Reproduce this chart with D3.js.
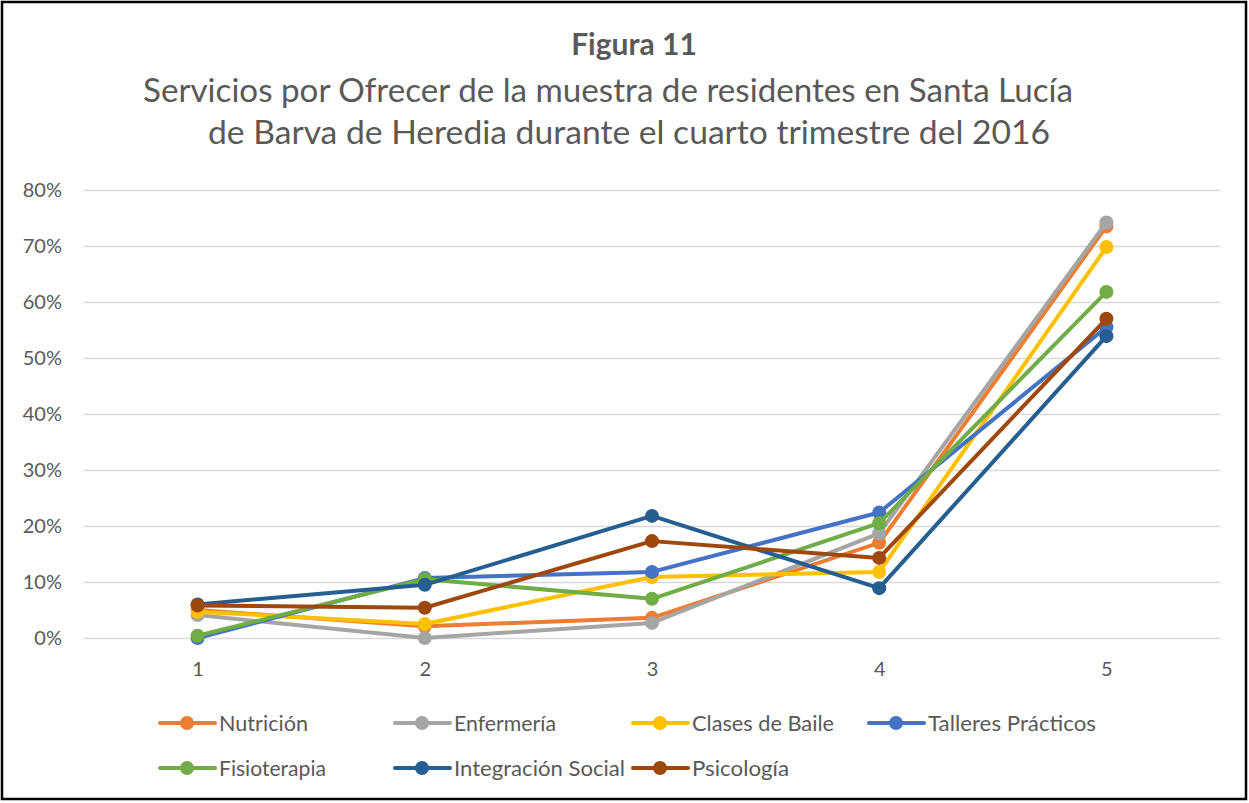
<!DOCTYPE html>
<html><head><meta charset="utf-8">
<script src="https://cdn.jsdelivr.net/npm/d3@7"></script>
<style>body{margin:0;background:#fff;}svg{display:block;font-family:Lato,"Open Sans",sans-serif;}</style>
</head><body>
<svg id="c" width="1249" height="803"></svg>
<script>
const categories = ["1","2","3","4","5"];
const seriesNames = ["Nutrición","Enfermería","Clases de Baile","Talleres Prácticos","Fisioterapia","Integración Social","Psicología"];
const nutricion   = [0.050, 0.021, 0.036, 0.170, 0.735];
const enfermeria  = [0.041, 0.000, 0.027, 0.187, 0.742];
const clasesBaile = [0.047, 0.025, 0.109, 0.118, 0.698];
const talleres    = [0.000, 0.107, 0.118, 0.224, 0.555];
const fisioterapia= [0.004, 0.105, 0.070, 0.205, 0.618];
const integracion = [0.060, 0.095, 0.218, 0.089, 0.539];
const psicologia  = [0.058, 0.054, 0.173, 0.143, 0.570];
const yTicks = [0,0.1,0.2,0.3,0.4,0.5,0.6,0.7,0.8];
const colors = ["#ED7D31","#A5A5A5","#FFC000","#4472C4","#70AD47","#255E91","#9E480E"];
const seriesValues = [nutricion,enfermeria,clasesBaile,talleres,fisioterapia,integracion,psicologia];

const svg = d3.select("#c");
svg.append("rect").attr("x",2).attr("y",2).attr("width",1244).attr("height",797)
  .attr("fill","#fff").attr("stroke","#000").attr("stroke-width",2.5);

svg.append("text").attr("x",634).attr("y",55).attr("text-anchor","middle")
  .attr("font-size",30).attr("font-weight","bold").attr("fill","#595959").text("Figura 11");
svg.append("text").attr("x",608).attr("y",102).attr("text-anchor","middle")
  .attr("font-size",33).attr("fill","#595959")
  .attr("textLength",930).attr("lengthAdjust","spacingAndGlyphs")
  .text("Servicios por Ofrecer de la muestra de residentes en Santa Lucía");
svg.append("text").attr("x",629).attr("y",144).attr("text-anchor","middle")
  .attr("font-size",33).attr("fill","#595959")
  .attr("textLength",842).attr("lengthAdjust","spacingAndGlyphs")
  .text("de Barva de Heredia durante el cuarto trimestre del 2016");

const x = d3.scalePoint().domain(categories).range([84,1220]).padding(0.5);
const y = d3.scaleLinear().domain([0,0.8]).range([638,190]);

const gy = svg.append("g").attr("transform","translate(84,0)")
  .call(d3.axisLeft(y).tickValues(yTicks).tickFormat(d3.format(".0%")).tickSize(-1136).tickPadding(22));
gy.select(".domain").remove();
gy.selectAll("line").attr("stroke","#d9d9d9").attr("stroke-width",1.3);
gy.selectAll("text").attr("font-size",20).attr("fill","#595959").attr("font-family","Lato,sans-serif");

const gx = svg.append("g").attr("transform","translate(0,638)")
  .call(d3.axisBottom(x).tickSize(0).tickPadding(24));
gx.select(".domain").remove();
gx.selectAll("text").attr("font-size",20).attr("fill","#595959").attr("font-family","Lato,sans-serif");

const line = d3.line().x((d,i)=>x(categories[i])).y(d=>y(d));
seriesValues.forEach((vals,k)=>{
  const g = svg.append("g");
  g.append("path").datum(vals).attr("d",line).attr("fill","none")
    .attr("stroke",colors[k]).attr("stroke-width",4).attr("stroke-linejoin","round");
  g.selectAll("circle").data(vals).join("circle")
    .attr("cx",(d,i)=>x(categories[i])).attr("cy",d=>y(d)).attr("r",7).attr("fill",colors[k]);
});

const legendPos = [[160,723],[395,723],[633,723],[869,723],[160,768],[395,768],[633,768]];
const legendWidths = [89,102,142,168,107,171,97];
seriesNames.forEach((n,k)=>{
  const [lx,ly] = legendPos[k];
  const g = svg.append("g");
  g.append("line").attr("x1",lx).attr("x2",lx+55).attr("y1",ly).attr("y2",ly)
    .attr("stroke",colors[k]).attr("stroke-width",4).attr("stroke-linecap","round");
  g.append("circle").attr("cx",lx+27).attr("cy",ly).attr("r",7).attr("fill",colors[k]);
  g.append("text").attr("x",lx+59).attr("y",ly+8).attr("font-size",21).attr("fill","#595959")
    .attr("textLength",legendWidths[k]).attr("lengthAdjust","spacingAndGlyphs").text(n);
});
</script>
</body></html>
